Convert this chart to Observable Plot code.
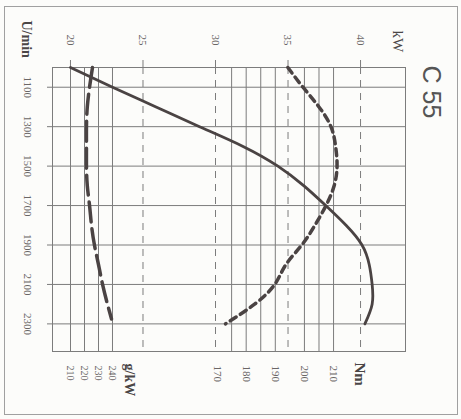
<!DOCTYPE html>
<html>
<head>
<meta charset="utf-8">
<script src="https://cdn.jsdelivr.net/npm/d3@7"></script>
<script src="https://cdn.jsdelivr.net/npm/@observablehq/plot@0.6"></script>
<style>
  html, body { margin: 0; padding: 0; background: #fcfcfa; overflow: hidden; }
  #stage { position: absolute; left: 0; top: 0; width: 419px; height: 461px;
           transform-origin: 0 0; transform: translate(461px, 0) rotate(90deg); }
  #stage svg { position: absolute; left: 0; top: 0; }
  #border { position: absolute; left: 6px; top: 3px; width: 407px; height: 452px; border: 1px solid #a0a0a0; }
</style>
</head>
<body>
<div id="stage"><div id="border"></div></div>
<script>
// ---- data ----
const rpm = [1000, 1100, 1200, 1300, 1400, 1500, 1600, 1700, 1800, 1900, 2000, 2100, 2200, 2300];
const powerKW = [20.0, 22.9, 25.9, 28.9, 31.9, 34.3, 36.1, 37.6, 39.0, 40.1, 40.6, 40.8, 40.8, 40.3];
const torqueNm = [194.3, 199.5, 205.0, 209.1, 210.7, 211.2, 210.2, 207.4, 203.6, 199.1, 193.6, 189.8, 182.9, 172.9];
const fuelRpm = [1000, 1100, 1200, 1300, 1400, 1500, 1600, 1700, 1800, 1900, 2000, 2100, 2200, 2275];
const fuelGkW = [225.7, 223.6, 222.0, 221.4, 221.4, 221.4, 222.0, 223.6, 225.0, 227.1, 230.0, 232.9, 236.4, 239.3];

const rpmTicks = [1100, 1300, 1500, 1700, 1900, 2100, 2300];
const kwTicks = [20, 25, 30, 35, 40];
const kwDashed = [25, 30, 35, 40];
const nmTicks = [170, 180, 190, 200, 210];
const nmGrid = [175, 180, 185, 190, 200, 205, 210];
const gTicks = [210, 220, 230, 240];

const title = "C 55";
const labels = {rpm: "U/min", kw: "kW", nm: "Nm", g: "g/kW"};

// ---- styling ----
const gridColor = "#7c7c7c";
const textColor = "#6a6666";
const inkColor = "#4a4343";
const serif = "'Liberation Serif', 'DejaVu Serif', serif";

const rpmDomain = [1000, 2440];
const kwDomain = [18.76, 43.1];
const nmDomain = [113.5, 234.7];
const gDomain = [197.14, 449.3];

const base = {
  width: 419, height: 461,
  marginLeft: 67, marginRight: 68, marginTop: 55, marginBottom: 53,
  x: {domain: rpmDomain, axis: null},
  style: {background: "transparent", overflow: "visible", fontFamily: serif}
};

function layer(yDomain, marks) {
  const svg = Plot.plot({...base, y: {domain: yDomain, axis: null}, marks});
  svg.style.position = "absolute";
  document.getElementById("stage").appendChild(svg);
}

const powerRows = rpm.map((r, i) => ({rpm: r, v: powerKW[i]}));
const torqueRows = rpm.map((r, i) => ({rpm: r, v: torqueNm[i]}));
const fuelRows = fuelRpm.map((r, i) => ({rpm: r, v: fuelGkW[i]}));
const plain = d => String(d);

// Layer: kW grid, frame, rpm + kW axes, labels
layer(kwDomain, [
  Plot.gridX(rpmTicks, {stroke: gridColor, strokeOpacity: 1}),
  Plot.gridY(kwDashed, {stroke: gridColor, strokeOpacity: 1, strokeDasharray: "7,6"}),
  Plot.frame({stroke: gridColor, strokeOpacity: 1}),
  Plot.axisX(rpmTicks, {anchor: "bottom", tickSize: 6, tickPadding: 15, label: null, tickFormat: plain,
    stroke: gridColor, fill: textColor, fontSize: 11}),
  Plot.axisY(kwTicks, {anchor: "left", tickSize: 7, tickPadding: 15, label: null, tickFormat: plain,
    stroke: gridColor, fill: textColor, fontSize: 11}),
  Plot.text([title], {frameAnchor: "top-left", dx: -2, dy: -25, textAnchor: "start", lineAnchor: "middle",
    fontSize: 25, fontFamily: "'Liberation Sans', sans-serif", fill: "#555"}),
  Plot.text([labels.kw], {frameAnchor: "top-left", dx: -37, dy: 8, textAnchor: "start", lineAnchor: "middle",
    fontSize: 15, fill: "#4a4646"}),
  Plot.text([labels.rpm], {frameAnchor: "bottom-left", dx: -47, dy: 26, textAnchor: "start", lineAnchor: "middle",
    fontSize: 14, fontWeight: "bold", fill: "#4a4646"}),
  Plot.text([labels.nm], {frameAnchor: "top-right", dx: 11, dy: 46, textAnchor: "start", lineAnchor: "middle",
    fontSize: 15, fontWeight: "bold", fill: "#4a4646"}),
  Plot.text([labels.g], {frameAnchor: "top-right", dx: 12, dy: 276, textAnchor: "start", lineAnchor: "middle",
    fontSize: 14, fontWeight: "bold", fill: "#4a4646"})
]);

// Layer: Nm grid + axis
layer(nmDomain, [
  Plot.gridY(nmGrid, {stroke: gridColor, strokeOpacity: 1}),
  Plot.axisY(nmTicks, {anchor: "right", tickSize: 0, tickPadding: 14, label: null, tickFormat: plain,
    fill: textColor, fontSize: 11})
]);

// Layer: g/kW grid + axis
layer(gDomain, [
  Plot.gridY(gTicks, {stroke: gridColor, strokeOpacity: 1}),
  Plot.axisY(gTicks, {anchor: "right", tickSize: 0, tickPadding: 14, label: null, tickFormat: plain,
    fill: textColor, fontSize: 10})
]);

// Curves
layer(kwDomain, [
  Plot.line(powerRows, {x: "rpm", y: "v", curve: "natural", stroke: inkColor, strokeWidth: 2.8})
]);
layer(nmDomain, [
  Plot.line(torqueRows, {x: "rpm", y: "v", curve: "natural", stroke: inkColor, strokeWidth: 3.5,
    strokeDasharray: "7,5"})
]);
layer(gDomain, [
  Plot.line(fuelRows, {x: "rpm", y: "v", curve: "natural", stroke: inkColor, strokeWidth: 3.5,
    strokeDasharray: "20,7"})
]);
</script>
</body>
</html>
